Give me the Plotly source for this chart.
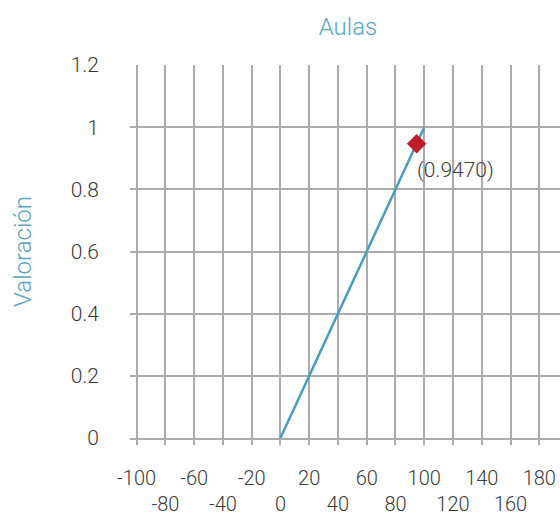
import plotly.graph_objects as go

# Data
line_x = [0, 100]
line_y = [0, 1]
point_x = [94.7]
point_y = [0.947]
point_label = ["(0.9470)"]
x_tickvals = [-100, -80, -60, -40, -20, 0, 20, 40, 60, 80, 100, 120, 140, 160, 180]
y_tickvals = [0, 0.2, 0.4, 0.6, 0.8, 1.0, 1.2]
y_ticktext = ["0", "0.2", "0.4", "0.6", "0.8", "1", "1.2"]

x_ticktext = [str(v) if i % 2 == 0 else "<br>" + str(v) for i, v in enumerate(x_tickvals)]

TEAL = "#5aa5c2"
GRID = "#ababab"
TXT = "#3a3a3a"
FONT = "Roboto"

fig = go.Figure()
fig.add_trace(go.Scatter(x=line_x, y=line_y, mode="lines",
                         line=dict(color="#4a9dbd", width=2.5),
                         hoverinfo="skip", showlegend=False))
fig.add_trace(go.Scatter(x=point_x, y=point_y, mode="markers",
                         marker=dict(symbol="diamond", size=15, color="#c01d2c"),
                         showlegend=False))
fig.add_annotation(x=point_x[0], y=point_y[0], xref="x", yref="y",
                   text=point_label[0], showarrow=False,
                   xanchor="left", yanchor="top", xshift=-2, yshift=-12,
                   font=dict(family=FONT, size=21, color=TXT, weight=300))

fig.update_layout(
    width=560, height=513,
    margin=dict(l=130, r=0, t=65, b=75, autoexpand=False),
    paper_bgcolor="white", plot_bgcolor="white",
    font=dict(family=FONT, size=21, color=TXT, weight=300),
    title=dict(text="Aulas", x=(130 + 560) / 2 / 560 + 3 / 560, xanchor="center",
               y=1 - 27 / 513, yanchor="middle",
               font=dict(family=FONT, size=24, color=TEAL, weight=300)),
    xaxis=dict(range=[-104.6, 194.4], tickvals=x_tickvals, ticktext=x_ticktext,
               showgrid=True, gridcolor=GRID, gridwidth=1.5,
               showline=True, linecolor=GRID, linewidth=1.5,
               ticks="outside", ticklen=5, tickcolor=GRID, tickwidth=1.5,
               zeroline=False, tickangle=0, automargin=False,
               tickfont=dict(family=FONT, size=20, color=TXT, weight=300),
               ticklabelstandoff=16),
    yaxis=dict(range=[0, 1.2001], tickvals=y_tickvals, ticktext=y_ticktext,
               showgrid=True, gridcolor=GRID, gridwidth=1.5,
               showline=False, ticks="", zeroline=False, automargin=False,
               tickfont=dict(family=FONT, size=21, color=TXT, weight=300),
               ticklabelstandoff=30,
               title=dict(text="Valoración", standoff=32,
                          font=dict(family=FONT, size=24, color=TEAL, weight=300))),
)

fig.write_html("out.html", config={"displayModeBar": False},
               post_script="document.body.style.margin='0';")
